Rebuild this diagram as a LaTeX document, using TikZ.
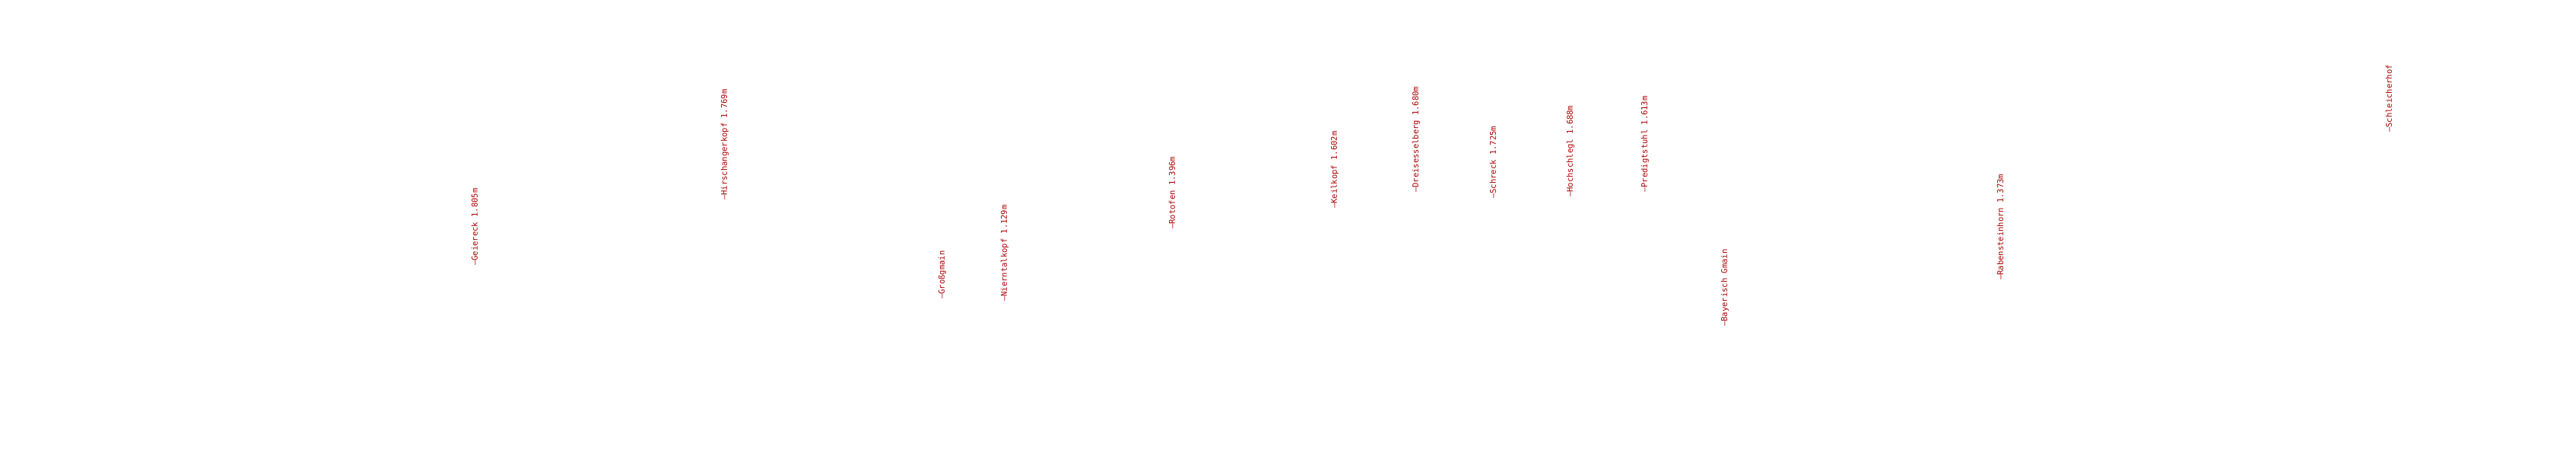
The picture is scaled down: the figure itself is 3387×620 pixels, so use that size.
\documentclass[tikz,border=0pt]{standalone}
\usepackage{fontspec}
\newfontfamily\lblfont{DejaVu Sans Mono}
\definecolor{lblred}{RGB}{170,0,0}
\begin{document}
\begin{tikzpicture}[x=1pt,y=-1pt,
  peak/.style={rotate=90,anchor=west,inner sep=0pt,text=lblred,font=\lblfont\fontsize{10.5}{12}\selectfont}]
\fill[white] (0,0) rectangle (3387,620);
\useasboundingbox (0,0) rectangle (3387,620);
\node[peak] (geiereck) at (624,349) {—Geiereck 1.805m};
\node[peak] (hirsch) at (953,263) {—Hirschangerkopf 1.769m};
\node[peak] (grossgmain) at (1239,393) {—Großgmain};
\node[peak] (niern) at (1321,396) {—Nierntalkopf 1.129m};
\node[peak] (rotofen) at (1541,301) {—Rotofen 1.396m};
\node[peak] (keilkopf) at (1755,274) {—Keilkopf 1.602m};
\node[peak] (dreis) at (1862,253) {—Dreisesselberg 1.680m};
\node[peak] (schreck) at (1963,261) {—Schreck 1.725m};
\node[peak] (hochschlegl) at (2065,259) {—Hochschlegl 1.688m};
\node[peak] (predigt) at (2163,253) {—Predigtstuhl 1.613m};
\node[peak] (baygmain) at (2268,429) {—Bayerisch Gmain};
\node[peak] (rabenstein) at (2630,368) {—Rabensteinhorn 1.373m};
\node[peak] (schleicher) at (3141,174) {—Schleicherhof};
\end{tikzpicture}
\end{document}
